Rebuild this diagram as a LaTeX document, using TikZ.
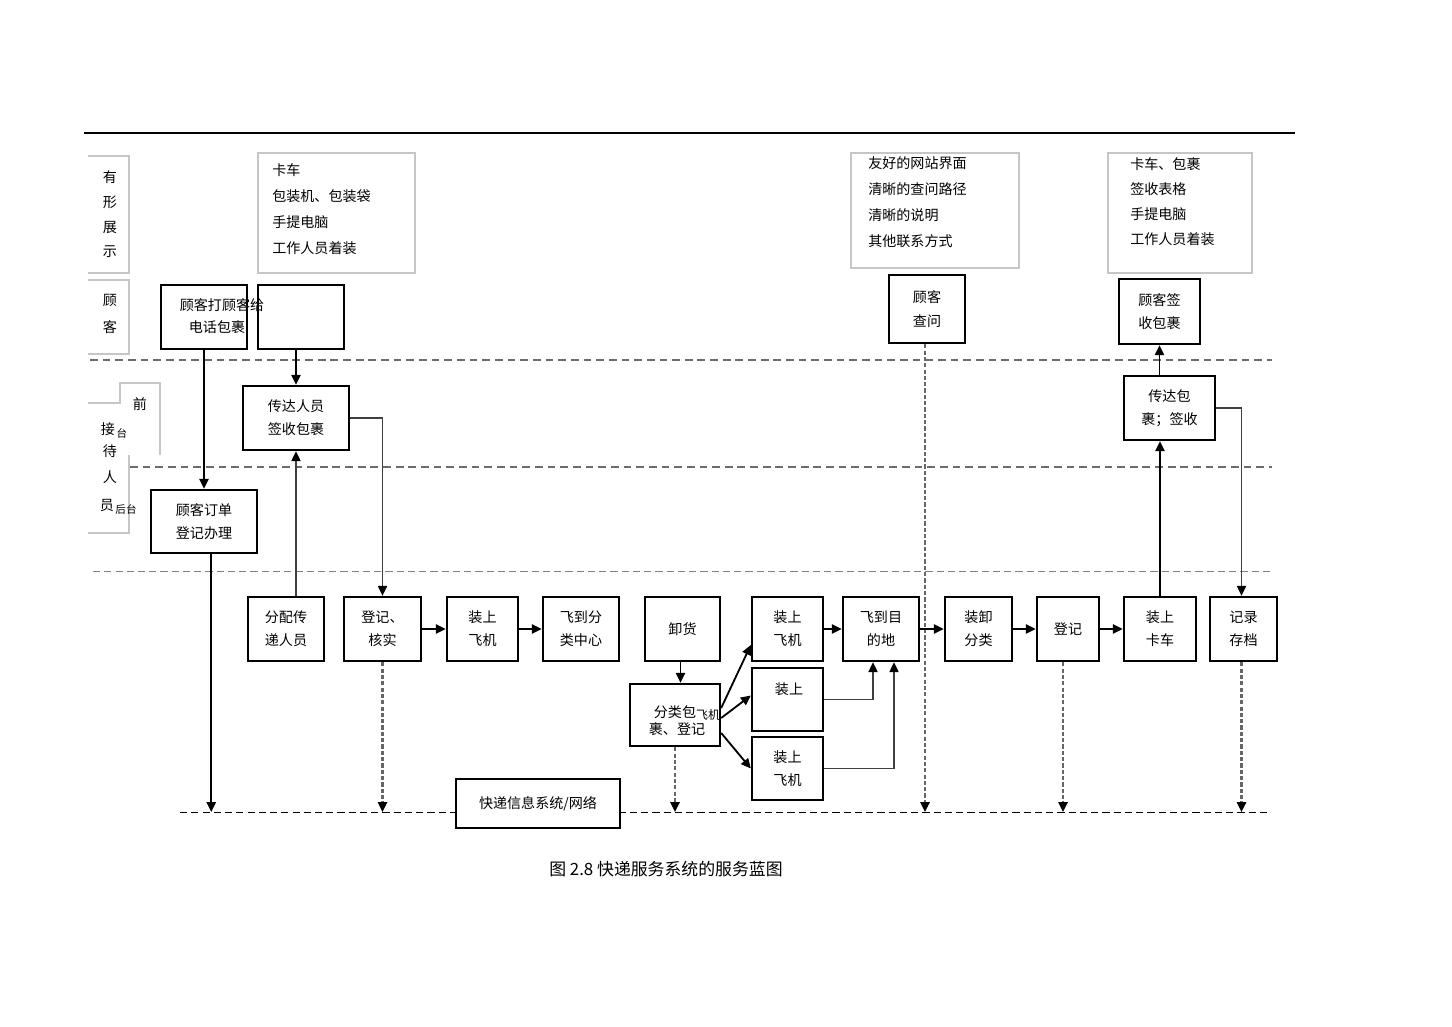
\documentclass[tikz,border=0pt]{standalone}
\usepackage{fontspec}
\setmainfont{Noto Sans CJK SC}
\usetikzlibrary{arrows.meta,calc}

\begin{document}
\begin{tikzpicture}[x=0.025cm, y=-0.025cm, font=\fontsize{10}{16.5}\selectfont,
  box/.style 2 args={draw, line width=1.7pt, inner sep=0pt, align=center,
    minimum width=#1*0.025cm, minimum height=#2*0.025cm},
  frame/.style={draw=gray!45, line width=0.8pt},
  small/.style={font=\fontsize{7.5}{9}\selectfont},
  lane/.style={draw=gray!85!black, line width=1.6pt, dash pattern=on 5.5pt off 3.5pt},
  lanethin/.style={draw=gray, line width=0.7pt, dash pattern=on 5pt off 3pt},
  flow/.style={line width=1.3pt, -{Triangle[length=7pt,width=6.5pt]}},
  thinflow/.style={line width=0.9pt, draw=black!75, -{Triangle[length=7pt,width=6.5pt,color=black]}},
  dflow/.style={line width=1.6pt, draw=black!60, dash pattern=on 3pt off 1.5pt,
    -{Triangle[length=7pt,width=6.5pt,color=black]}}]
\useasboundingbox (0,0) rectangle (1452,1026);

\draw[line width=1.2pt] (84,133) -- (1295,133);

% lanes
\draw[lane] (90,360) -- (1272,360);
\draw[lane] (130,467) -- (1272,467);
\draw[lanethin] (93,571) -- (1272,571);
\draw[lanethin, black] (180,812) -- (1270,812);
\coordinate (base) at (0,812);

% row labels
\draw[frame] (88,156) -- (129,156) -- (129,273) -- (88,273);
\draw[frame] (88,280) -- (129,280) -- (129,354) -- (88,354);
\draw[frame] (88,403) -- (120,403) -- (120,383) -- (160,383) -- (160,455);
\draw[frame] (129,455) -- (129,533) -- (88,533);
\foreach \t [count=\i] in {有,形,展,示}
   \node (lv\i) at (110,152+25*\i) {\t};
\node (lc1) at (110,300) {顾};
\node (lc2) at (110,327) {客};
\node (lq) at (140,404) {前};
\node (lj) at (108,429) {接};
\node[small] (lt1) at (122,433) {台};
\node (ld) at (110,451) {待};
\node (lr) at (110,477) {人};
\node (ly) at (107,505) {员};
\node[small] (lt2) at (126,509) {后台};

% physical evidence
\draw[frame] (258,153) rectangle (415,273);
\draw[frame] (851,153) rectangle (1019,268);
\draw[frame] (1108,153) rectangle (1252,273);
\foreach \t [count=\i] in {卡车,包装机、包装袋,手提电脑,工作人员着装}
   \node[anchor=west, inner sep=0pt] (ea\i) at (272,144+26*\i) {\t};
\foreach \t [count=\i] in {友好的网站界面,清晰的查问路径,清晰的说明,其他联系方式}
   \node[anchor=west, inner sep=0pt] (eb\i) at (868,137+26*\i) {\t};
\foreach \t [count=\i] in {卡车、包裹,签收表格,手提电脑,工作人员着装}
   \node[anchor=west, inner sep=0pt] (ec\i) at (1130,139+25*\i) {\t};

% customer
\node[box={86}{64}] (c1) at (204,317) {};
\node (c1a) at (222,305) {顾客打顾客给};
\node (c1b) at (217,327) {电话包裹};
\node[box={86}{64}] (c2) at (301,317) {};
\node[box={76}{68}] (c3) at (927,309) {顾客\\查问};
\node[box={81}{65}] (c4) at (1159.5,311.5) {顾客签\\收包裹};

% front and back stage
\node[box={106}{64}] (f1) at (296,418) {传达人员\\签收包裹};
\node[box={91}{64}] (f2) at (1169.5,408) {传达包\\裹；签收};
\node[box={106}{63}] (b1) at (204,521.5) {顾客订单\\登记办理};

% support
\node[box={76}{64}] (s1) at (286,629) {分配传\\递人员};
\node[box={77}{64}] (s2) at (382.5,629) {登记、\\核实};
\node[box={71}{64}] (s3) at (482.5,629) {装上\\飞机};
\node[box={76}{64}] (s4) at (581,629) {飞到分\\类中心};
\node[box={75}{64}] (s5) at (682.5,629) {卸货};
\node[box={90}{62}] (s6) at (675,715) {};
\node (s6a) at (675,712) {分类包};
\node[font=\fontsize{8.5}{9}\selectfont] (s6b) at (708,715) {飞机};
\node (s6c) at (677,729) {裹、登记};
\node[box={71}{64}] (s7) at (787.5,629) {装上\\飞机};
\node[box={71}{63}] (s8) at (787.5,699.5) {};
\node (s8a) at (789,689) {装上};
\node[box={71}{63}] (s9) at (787.5,768.5) {装上\\飞机};
\node[box={76}{64}] (s10) at (881,629) {飞到目\\的地};
\node[box={67}{64}] (s11) at (978.5,629) {装卸\\分类};
\node[box={62}{64}] (s12) at (1068,629) {登记};
\node[box={72}{64}] (s13) at (1160,629) {装上\\卡车};
\node[box={67}{64}] (s14) at (1243.5,629) {记录\\存档};
\node[box={164}{49}, fill=white] (info) at (538,803.5) {快递信息系统/网络};

% connectors
\draw[flow] (c1) -- (b1);
\draw[flow] (c2.south -| f1.north) -- (f1.north);
\draw[thinflow] (f1.south |- s1.north) -- (f1.south);
\draw[thinflow] (f1.east) -| (s2.north);
\draw[flow] ([xshift=0.18cm]b1.south) -- ([xshift=0.18cm]b1.south |- base);
\draw[dflow] (s2.south) -- (s2.south |- base);
\draw[flow] (s2) -- (s3);
\draw[flow] (s3) -- (s4);
\draw[flow] ($(s5.south)+(-2,0)$) -- ($(s5.south |- s6.north)+(-2,0)$);
\draw[dflow] (s6.south) -- (s6.south |- base);
\draw[flow] ($(s6.east)+(0,-7)$) -- ($(s7.west)+(0,16)$);
\draw[flow] ($(s6.east)+(0,3)$) -- ($(s8.west)+(0,-4)$);
\draw[flow] ($(s6.east)+(0,18)$) -- (s9.west);
\draw[flow] (s7) -- (s10);
\draw[thinflow] (s8.east) -| ($(s10.south)+(-8,0)$);
\draw[thinflow] (s9.east) -| ($(s10.south)+(13,0)$);
\draw[dflow] ($(c3.south)+(-2,0)$) -- ($(c3.south |- base)+(-2,0)$);
\draw[flow] (s10) -- (s11);
\draw[flow] (s11) -- (s12);
\draw[flow] (s12) -- (s13);
\draw[dflow] ($(s12.south)+(-5,0)$) -- ($(s12.south |- base)+(-5,0)$);
\draw[flow] (s13.north) -- (s13.north |- f2.south);
\draw[flow] (c4.south |- f2.north) -- (c4.south);
\draw[thinflow] (f2.east) -| ($(s14.north)+(-2,0)$);
\draw[dflow] ($(s14.south)+(-2,0)$) -- ($(s14.south |- base)+(-2,0)$);

\node[font=\fontsize{12}{14}\selectfont] (cap) at (666,869) {图 2.8 快递服务系统的服务蓝图};
\end{tikzpicture}
\end{document}
